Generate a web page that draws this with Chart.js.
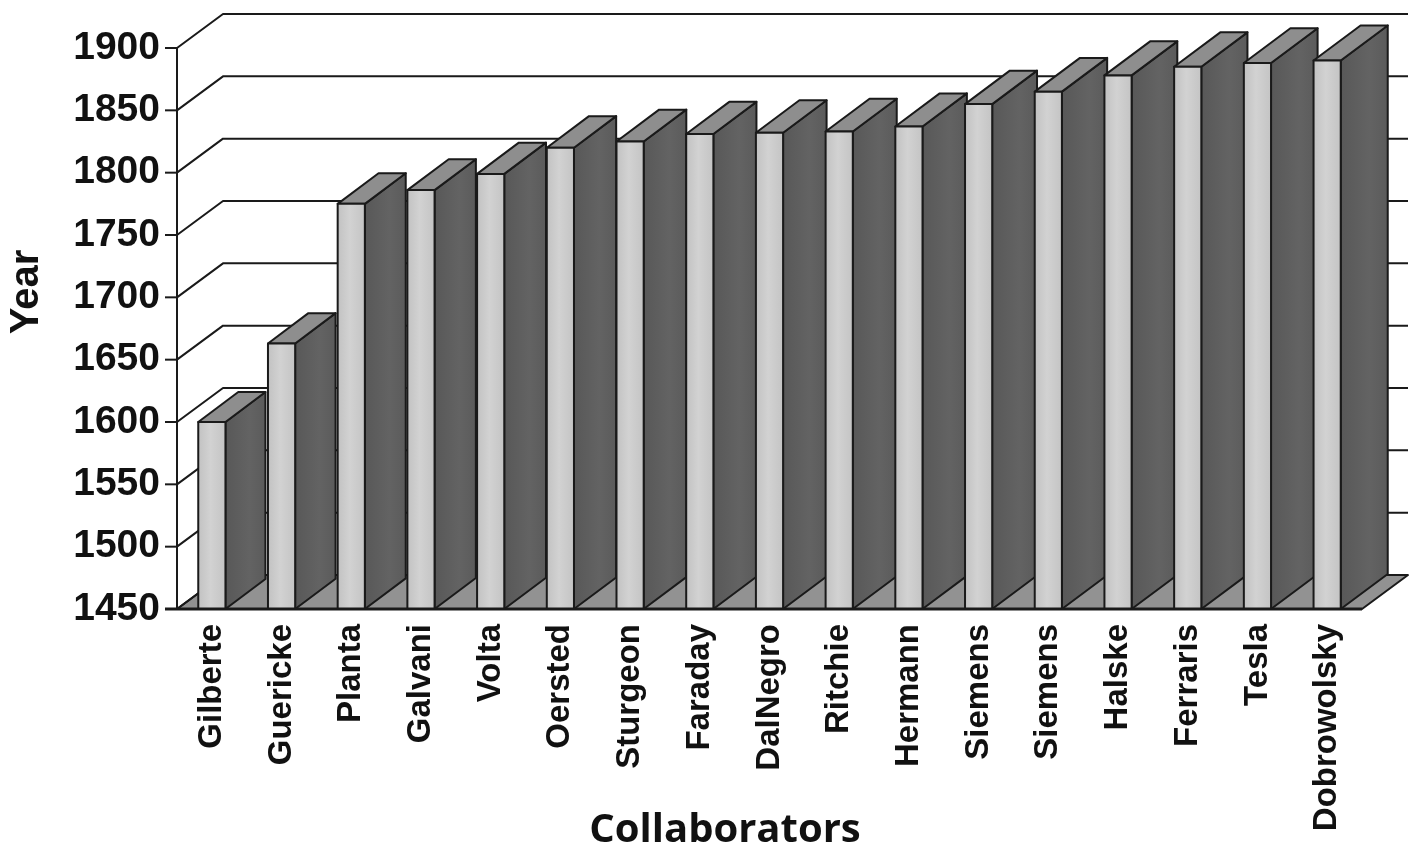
<!DOCTYPE html>
<html>
<head>
<meta charset="utf-8">
<script src="https://cdn.jsdelivr.net/npm/chart.js@4.4.1/dist/chart.umd.min.js"></script>
<style>
  html, body { margin: 0; padding: 0; background: #ffffff; }
  #wrap { width: 1414px; height: 851px; }
</style>
</head>
<body>
<div id="wrap"><canvas id="chart" width="1414" height="851"></canvas></div>
<script>
// Year each collaborator is associated with
const collaborators = [
  'Gilberte', 'Guericke', 'Planta', 'Galvani', 'Volta', 'Oersted', 'Sturgeon',
  'Faraday', 'DalNegro', 'Ritchie', 'Hermann', 'Siemens', 'Siemens', 'Halske',
  'Ferraris', 'Tesla', 'Dobrowolsky'
];
const years = [
  1600, 1663, 1775, 1786, 1799, 1820, 1825,
  1831, 1832, 1833, 1837, 1855, 1865, 1878,
  1885, 1888, 1890
];
const yearTicks = [1450, 1500, 1550, 1600, 1650, 1700, 1750, 1800, 1850, 1900];

// Depth of the back wall, and of the bars at the first / last category
const WALL_DX = 46, WALL_DY = -34;
const BAR_DX = [40, 47], BAR_DY = [-30, -35];

const INK = '#1a1a1a';

// Draws the left wall grid, the back wall lines, the floor and the value axis
const boxPlugin = {
  id: 'box3d',
  beforeDatasetsDraw(chart) {
    const ctx = chart.ctx;
    const { left, right, bottom } = chart.chartArea;
    const ys = chart.scales.y;
    ctx.save();
    ctx.lineJoin = 'round';

    // floor slab
    ctx.beginPath();
    ctx.moveTo(left, bottom);
    ctx.lineTo(right, bottom);
    ctx.lineTo(right + WALL_DX, bottom + WALL_DY);
    ctx.lineTo(left + WALL_DX, bottom + WALL_DY);
    ctx.closePath();
    ctx.fillStyle = '#929292';
    ctx.fill();
    ctx.strokeStyle = INK;
    ctx.lineWidth = 2;
    ctx.stroke();

    // gridlines: diagonal on the side wall, horizontal on the back wall
    ctx.strokeStyle = INK;
    ctx.lineWidth = 2;
    yearTicks.forEach(v => {
      const yy = ys.getPixelForValue(v);
      ctx.beginPath();
      ctx.moveTo(left, yy);
      ctx.lineTo(left + WALL_DX, yy + WALL_DY);
      ctx.lineTo(right + WALL_DX, yy + WALL_DY);
      ctx.stroke();
      // tick mark
      ctx.beginPath();
      ctx.moveTo(left - 12, yy);
      ctx.lineTo(left, yy);
      ctx.stroke();
    });

    // value axis line
    ctx.beginPath();
    ctx.moveTo(left, ys.getPixelForValue(yearTicks[yearTicks.length - 1]));
    ctx.lineTo(left, bottom);
    ctx.stroke();
    ctx.restore();
  },

  // Each bar is drawn as a box from the element geometry the bar controller computed
  afterDatasetsDraw(chart) {
    const ctx = chart.ctx;
    const meta = chart.getDatasetMeta(0);
    const n = meta.data.length;
    ctx.save();
    ctx.lineJoin = 'round';
    ctx.strokeStyle = INK;
    ctx.lineWidth = 2;
    meta.data.forEach((bar, i) => {
      const p = bar.getProps(['x', 'y', 'base', 'width'], true);
      const t = n > 1 ? i / (n - 1) : 0;
      const dx = BAR_DX[0] + (BAR_DX[1] - BAR_DX[0]) * t;
      const dy = BAR_DY[0] + (BAR_DY[1] - BAR_DY[0]) * t;
      const xl = p.x - p.width / 2, xr = p.x + p.width / 2;
      const yt = p.y, yb = p.base;

      // side face
      const sg = ctx.createLinearGradient(xr, 0, xr + dx, 0);
      sg.addColorStop(0, '#585858');
      sg.addColorStop(0.6, '#636363');
      sg.addColorStop(1, '#5b5b5b');
      ctx.beginPath();
      ctx.moveTo(xr, yt);
      ctx.lineTo(xr + dx, yt + dy);
      ctx.lineTo(xr + dx, yb + dy);
      ctx.lineTo(xr, yb);
      ctx.closePath();
      ctx.fillStyle = sg;
      ctx.fill();
      ctx.stroke();

      // top face
      ctx.beginPath();
      ctx.moveTo(xl, yt);
      ctx.lineTo(xl + dx, yt + dy);
      ctx.lineTo(xr + dx, yt + dy);
      ctx.lineTo(xr, yt);
      ctx.closePath();
      ctx.fillStyle = '#8e8e8e';
      ctx.fill();
      ctx.stroke();

      // front face
      const fg = ctx.createLinearGradient(xl, 0, xr, 0);
      fg.addColorStop(0, '#c2c2c2');
      fg.addColorStop(0.45, '#d2d2d2');
      fg.addColorStop(1, '#c4c4c4');
      ctx.beginPath();
      ctx.rect(xl, yt, xr - xl, yb - yt);
      ctx.fillStyle = fg;
      ctx.fill();
      ctx.stroke();
    });

    // front edge of the floor over the bar bottoms
    const { left, right, bottom } = chart.chartArea;
    ctx.lineWidth = 3;
    ctx.beginPath();
    ctx.moveTo(left - 12, bottom);
    ctx.lineTo(right, bottom);
    ctx.stroke();
    ctx.restore();
  },

  // Axis titles
  afterDraw(chart) {
    const ctx = chart.ctx;
    ctx.save();
    ctx.fillStyle = '#111111';
    ctx.textAlign = 'center';
    ctx.textBaseline = 'middle';
    ctx.font = 'bold 40px "Liberation Sans", Arial, sans-serif';
    ctx.translate(27, 292);
    ctx.rotate(-Math.PI / 2);
    ctx.fillText('Year', 0, 0);
    ctx.restore();

    ctx.save();
    ctx.fillStyle = '#111111';
    ctx.textAlign = 'center';
    ctx.textBaseline = 'middle';
    ctx.font = 'bold 40px "Open Sans", sans-serif';
    ctx.fillText('Collaborators', 725, 831);
    ctx.restore();
  }
};

new Chart(document.getElementById('chart'), {
  type: 'bar',
  data: {
    labels: collaborators,
    datasets: [{
      label: 'Year',
      data: years,
      base: yearTicks[0],
      backgroundColor: 'rgba(0,0,0,0)',
      borderWidth: 0,
      barPercentage: 0.39,
      categoryPercentage: 1.0
    }]
  },
  options: {
    responsive: false,
    animation: false,
    devicePixelRatio: 1,
    layout: { padding: { left: 0, right: 52, top: 48, bottom: 0 } },
    plugins: {
      legend: { display: false },
      tooltip: { enabled: false }
    },
    scales: {
      y: {
        min: yearTicks[0],
        max: yearTicks[yearTicks.length - 1],
        afterBuildTicks(scale) {
          scale.ticks = yearTicks.map(v => ({ value: v }));
        },
        afterFit(scale) { scale.width = 177; },
        grid: { display: false, drawTicks: false },
        border: { display: false },
        ticks: {
          padding: 17,
          color: '#111111',
          callback: v => String(v),
          font: { family: '"Liberation Sans", Arial, sans-serif', size: 39, weight: 'bold' }
        }
      },
      x: {
        afterFit(scale) { scale.height = 242; },
        grid: { display: false, drawTicks: false },
        border: { display: false },
        ticks: {
          autoSkip: false,
          minRotation: 90,
          maxRotation: 90,
          padding: 15,
          color: '#111111',
          font: { family: '"Liberation Sans", Arial, sans-serif', size: 33, weight: 'bold' }
        }
      }
    }
  },
  plugins: [boxPlugin]
});
</script>
</body>
</html>
